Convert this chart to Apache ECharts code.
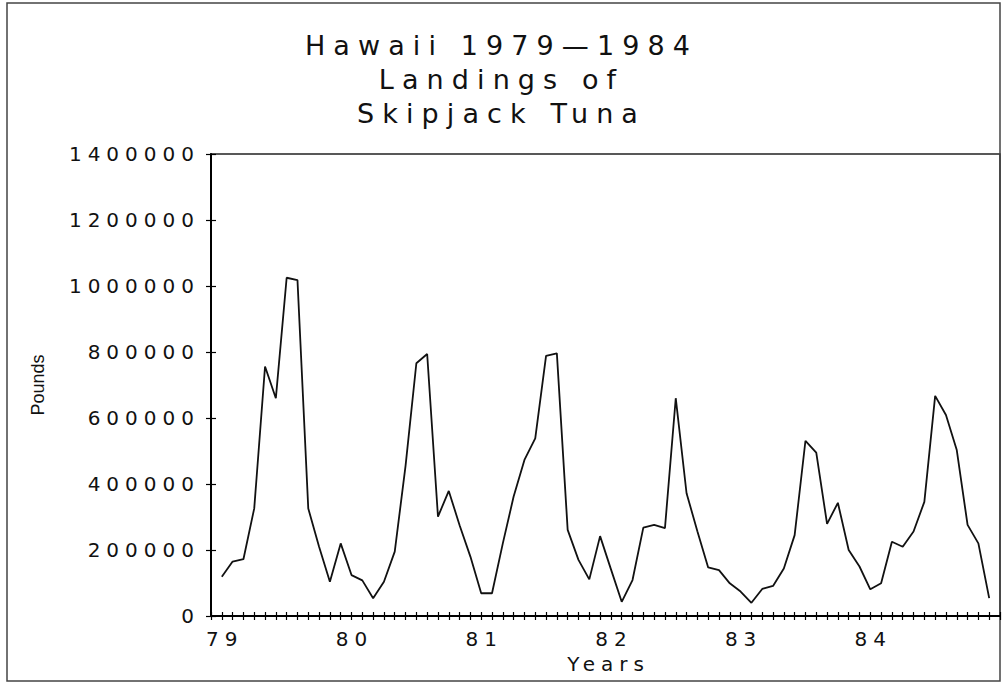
<!DOCTYPE html>
<html>
<head>
<meta charset="utf-8">
<script src="https://cdn.jsdelivr.net/npm/echarts@6.0.0/dist/echarts.min.js"></script>
<style>
  html, body { margin: 0; padding: 0; background: #fff; }
  #chart { width: 1003px; height: 683px; }
  /* The original is a pen-plotter font, very wide. DejaVu with some tracking
     gets the widths close; em keeps the spacing in step with each font size. */
  #chart text[style*="DejaVu"], #chart text[font-family*="DejaVu"] { letter-spacing: 0.3em; }
</style>
</head>
<body>
<div id="chart"></div>
<script>
// Monthly skipjack landings in pounds, one array per year.
const Y1979 = [119000, 165000, 172000, 326000, 756000, 660000, 1025000, 1018000, 326000, 210000, 104000, 220000];
const Y1980 = [124000, 108000, 54000, 104000, 195000, 455000, 766000, 794000, 301000, 379000, 275000, 180000];
const Y1981 = [69000, 69000, 220000, 362000, 473000, 538000, 788000, 796000, 261000, 170000, 111000, 242000];
const Y1982 = [142000, 43000, 109000, 268000, 276000, 266000, 660000, 372000, 257000, 147000, 139000, 99000];
const Y1983 = [74000, 40000, 82000, 91000, 144000, 245000, 531000, 495000, 279000, 343000, 200000, 150000];
const Y1984 = [81000, 99000, 225000, 210000, 256000, 346000, 667000, 609000, 503000, 276000, 220000, 54000];

const YEAR_LABELS = ["79", "80", "81", "82", "83", "84"];

const TITLE = "Hawaii 1979\u20141984\nLandings of\nSkipjack Tuna";
const FONT = "DejaVu Sans";

// x is the month index from Jan 79; the axis runs one month past each end,
// as the original leaves a small gap before the first and after the last point.
const landings = [Y1979, Y1980, Y1981, Y1982, Y1983, Y1984]
  .flat()
  .map((v, i) => [i, v]);

function yearLabel(v) {
  if (v < 0 || v % 12 !== 0) return "";
  return YEAR_LABELS[v / 12] || "";
}

const tickLine = { color: "#000", width: 1.2 };

const option = {
  animation: false,
  backgroundColor: "#fff",
  title: {
    text: TITLE,
    left: "center",
    top: 28,
    padding: [0, 0, 0, 8],
    textStyle: { fontFamily: FONT, fontSize: 27, fontWeight: "normal", lineHeight: 34, color: "#111" },
  },
  grid: {
    left: 211, right: 3, top: 154, bottom: 67,
    show: true, borderColor: "#222", borderWidth: 1.5,
    outerBoundsMode: "none",
  },
  xAxis: [
    {
      type: "value", min: -1, max: 72, interval: 1, position: "bottom",
      axisLine: { onZero: false, lineStyle: { color: "#000", width: 2 } },
      axisTick: { length: 4, lineStyle: tickLine },
      axisLabel: {
        formatter: yearLabel, margin: 13, padding: [0, 0, 0, 6],
        fontFamily: FONT, fontSize: 20, color: "#111",
      },
      splitLine: { show: false },
      name: "Years", nameLocation: "middle", nameGap: 37,
      nameTextStyle: { fontFamily: FONT, fontSize: 20, color: "#111", padding: [0, 0, 0, 6] },
    },
    // second copy only for the inward half of the cross-shaped ticks
    {
      type: "value", min: -1, max: 72, interval: 1, position: "bottom",
      axisLine: { show: false, onZero: false },
      axisTick: { inside: true, length: 4, lineStyle: tickLine },
      axisLabel: { show: false },
      splitLine: { show: false },
    },
  ],
  yAxis: [
    {
      type: "value", min: 0, max: 1400000, interval: 200000, position: "left",
      axisLine: { show: true, onZero: false, lineStyle: { color: "#000", width: 2 } },
      axisTick: { show: true, length: 5, lineStyle: tickLine },
      axisLabel: { formatter: (v) => String(v), margin: 11, fontFamily: FONT, fontSize: 20, color: "#111" },
      splitLine: { show: false },
      name: "Pounds", nameLocation: "middle", nameRotate: 90, nameGap: 164,
      nameTextStyle: { fontFamily: "Liberation Sans", fontSize: 18, color: "#111" },
    },
    {
      type: "value", min: 0, max: 1400000, interval: 200000, position: "left",
      axisLine: { show: false, onZero: false },
      axisTick: { show: true, inside: true, length: 5, lineStyle: tickLine },
      axisLabel: { show: false },
      splitLine: { show: false },
    },
  ],
  graphic: [
    {
      type: "rect", silent: true,
      shape: { x: 7, y: 3, width: 993, height: 678 },
      style: { fill: "none", stroke: "#444", lineWidth: 1.5 },
    },
  ],
  series: [
    {
      type: "line",
      xAxisIndex: 0, yAxisIndex: 0,
      data: landings,
      showSymbol: false,
      lineStyle: { color: "#111", width: 1.8 },
    },
  ],
};

const chart = echarts.init(document.getElementById("chart"), null, { renderer: "svg" });
chart.setOption(option);
</script>
</body>
</html>
